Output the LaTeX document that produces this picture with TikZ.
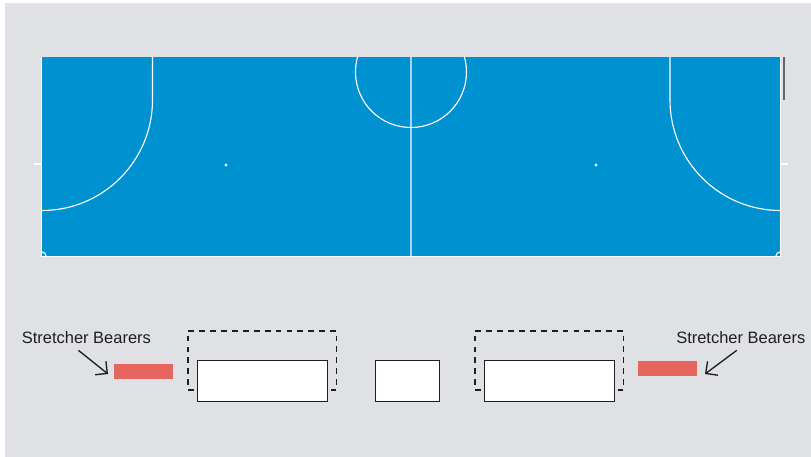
\documentclass[tikz,border=0pt]{standalone}
\usepackage{fontspec}
\setmainfont{Liberation Sans}
\usetikzlibrary{calc,arrows.meta}
\definecolor{hallgrey}{HTML}{E0E1E5}
\definecolor{courtblue}{HTML}{0091D1}
\definecolor{bearerred}{HTML}{E7655F}
\definecolor{inkdark}{HTML}{1E1E1E}
\tikzset{
	courtline/.style={draw=white, line width=0.85pt},
	benchbox/.style={draw=inkdark, fill=white, line width=0.8pt, minimum height=30.75pt, inner sep=0pt, outer sep=0pt},
	bearerbox/.style={fill=bearerred, minimum width=44.25pt, minimum height=11.25pt, inner sep=0pt, outer sep=0pt},
	bearerlabel/.style={font=\fontsize{12.35}{14}\selectfont, text=inkdark, inner sep=0pt},
	zonedash/.style={draw=inkdark, line width=0.85pt, dash pattern=on 4.4pt off 3.776pt},
	bearerarrow/.style={draw=inkdark, line width=1pt, -{Straight Barb[length=6.5pt,width=13pt]}},
}

\begin{document}
\begin{tikzpicture}[x=0.75pt, y=-0.75pt]
\useasboundingbox (0,0) rectangle (811,457);
\fill[white] (0,0) rectangle (811,457);
\fill[hallgrey] (5,3) rectangle (811,457);

\fill[courtblue] (42,57) rectangle (780,256);
\draw[courtline, line width=0.7pt] (41.6,57) -- (41.6,256.4) -- (780.4,256.4) -- (780.4,57);
\draw[courtline, draw=white!65!courtblue] (411,57) -- (411,256);
\draw[courtline] (152.5,57) -- (152.5,100) arc[start angle=0, end angle=90, radius=110.5];
\draw[courtline] (670,57) -- (670,100) arc[start angle=180, end angle=90, radius=110.5];
\begin{scope}
\clip (42,57) rectangle (780,256);
\draw[courtline] (411,72) circle[radius=55.5];
\end{scope}
\draw[courtline] (42,252) arc[start angle=270, end angle=360, radius=4];
\draw[courtline] (780,252) arc[start angle=270, end angle=180, radius=4];
\draw[courtline] (34,164) -- (42,164);
\draw[courtline] (780,164) -- (788,164);
\fill[white] (226,165) circle[radius=1.6];
\fill[white] (596,165) circle[radius=1.6];
\draw[draw=black!60, line width=1.1pt] (784,57) -- (784,100);

\node[benchbox, minimum width=97.6pt] (benchL) at (262.3,380.7) {};
\node[benchbox, minimum width=48.2pt] (benchM) at (407.3,380.7) {};
\node[benchbox, minimum width=97.6pt] (benchR) at (549.3,380.7) {};

\draw[zonedash] (194,390) -- (188,390) -- (188,331) -- (336.5,331) -- (336.5,390) -- (330,390);
\draw[zonedash] (481,390) -- (475,390) -- (475,331) -- (623.5,331) -- (623.5,390) -- (617,390);

\node[bearerbox] (bearerL) at (143.5,371.5) {};
\node[bearerbox] (bearerR) at (667.5,368.5) {};

\node[bearerlabel] (labelL) at (86.4,338) {Stretcher Bearers};
\node[bearerlabel] (labelR) at (740.8,338) {Stretcher Bearers};

\coordinate (tipL) at (108,374);
\coordinate (tipR) at (705,374);
\draw[bearerarrow] ([shift={(-8,6)}]labelL.south) -- (tipL);
\draw[bearerarrow] ([shift={(-4,6)}]labelR.south) -- (tipR);
\end{tikzpicture}
\end{document}
